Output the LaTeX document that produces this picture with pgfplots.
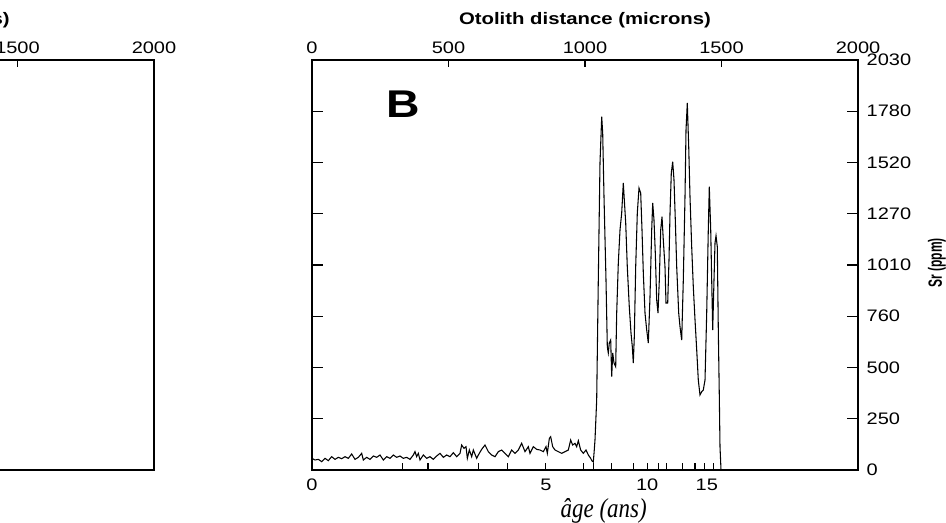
\documentclass[border=0pt]{standalone}
\usepackage{pgfplots}
\pgfplotsset{compat=1.18}
\usepackage{pgfplotstable}
\usepackage{fontspec}
\usepackage{graphicx}
\setmainfont{Liberation Sans}
\newfontfamily\serifit{Liberation Serif}
\newcommand{\tl}[1]{\scalebox{1.2}[1]{\fontsize{12.5}{14}\selectfont #1}}

\pgfplotstableread{
x y
0 57.8
11 49.5
23.2 52.8
35.4 41.3
47.6 57.8
59.8 46.2
72 66
84.2 52.8
96.5 62.7
108.7 56.1
120.9 66
133.1 57.8
145.3 79.2
157.5 52.8
169.7 62.7
181.9 82.5
188 49.5
200.2 62.7
212.5 52.8
224.7 69.3
236.9 62.7
249.1 74.3
261.3 49.5
273.5 66
285.7 57.8
297.9 74.3
310.1 62.7
322.3 69.3
334.5 57.8
346.8 62.7
359 52.8
371.2 74.3
377.3 90.8
383.4 66
389.5 82.5
395.6 49.5
407.8 74.3
420 57.8
432.2 66
444.4 52.8
456.7 69.3
468.9 82.5
481.1 62.7
493.3 74.3
505.5 66
517.7 85.8
529.9 66
542.1 82.5
548.2 123.8
556.8 107.3
564.1 115.5
569 57.8
576.3 99
584.9 66
591 99
603.2 57.8
609.3 74.3
621.5 102.3
633.7 123.8
645.9 90.8
658.1 74.3
670.4 66
682.6 90.8
694.8 99
707 82.5
719.2 66
731.4 99
743.6 82.5
755.8 99
768 132
780.2 90.8
792.4 115.5
798.5 82.5
810.7 115.5
822.9 102.3
835.2 99
847.4 90.8
857.1 115.5
862 82.5
869.4 156.8
874.3 165
881.6 115.5
890.1 99
902.3 90.8
914.5 82.5
926.7 90.8
938.9 99
947.5 148.5
954.8 123.8
963.4 132
969.5 115.5
975.6 145.2
984.1 99
993.9 82.5
1003.7 99
1012.2 74.3
1020.8 57.8
1025.7 44.6
1030.5 40
1034 100
1036.6 148.5
1042.8 346.6
1048.7 940.7
1054.9 1520
1061.2 1749
1064.8 1668
1069.6 1353
1076.9 940.7
1081.7 610.5
1085.3 579.3
1089 628.8
1094.1 643.6
1097.8 461.9
1101.5 579.3
1106.2 529.8
1112.4 511.4
1116.1 777.3
1122 1024.9
1128.2 1188.2
1134.4 1272.4
1140.3 1421
1144 1336.8
1149.1 1222.9
1154.9 1006.5
1162.2 808.5
1168.5 678.3
1173.3 610.5
1176.9 529.8
1180.6 660
1185.7 1006.5
1191.6 1272.4
1197.8 1396.2
1204 1371.4
1208.8 1188.2
1213.6 975.3
1219.8 777.3
1226 693.1
1231.9 628.8
1238.1 858
1244.3 1188.2
1248 1321.9
1252.7 1237.8
1257.5 1074.4
1262.6 841.7
1267.4 777.3
1272.2 940.7
1277.3 1188.2
1282.1 1254.1
1286.8 1138.7
1293 1006.5
1296.7 826.8
1302.9 826.8
1307.7 1039.7
1311.4 1272.4
1316.1 1470.4
1321.2 1526.4
1326 1435.8
1330.8 1237.8
1335.9 1006.5
1343.2 777.3
1348 709.5
1354.2 643.6
1360.1 940.7
1366.3 1353.1
1370 1683.3
1374.7 1817
1379.9 1600.7
1384.6 1353.1
1390.8 1105.6
1396.7 907.5
1403 742.7
1409.2 594.1
1415 445.6
1421.2 371.3
1427.5 387.7
1433.3 396.1
1439.6 445.6
1445.8 777.3
1451.6 1188.2
1455.3 1402.6
1460.5 1188.2
1464.1 940.7
1467.8 693.1
1472.5 940.7
1476.2 1123.9
1479.9 1160
1484.6 1105.6
1488.3 693.1
1492 362.9
1494.5 115.4
1498.2 0
}\srdata

\begin{document}
\begin{tikzpicture}
\pgfplotsset{
  panel/.style={scale only axis, width=409.5pt, height=307.5pt,
    xmin=0, xmax=2000, ymin=0, ymax=2030, anchor=south west, clip=false,
    tick style={black, line width=0.8pt}},
}
% ---------- Panel A (partly outside the picture) ----------
\begin{axis}[panel, at={(-294pt,39pt)},
  axis line style={black, line width=1.1pt},
  xtick=\empty, ytick=\empty,
  minor ytick={253.75,507.5,761.25,1015,1268.75,1522.5,1776.25},
  ytick pos=right, tick align=inside, minor tick length=8.25pt]
\end{axis}
\begin{axis}[panel, at={(-294pt,39pt)},
  axis x line*=top, axis y line=none,
  axis line style={black, line width=1.5pt},
  xtick={0,500,1000,1500,2000},
  xticklabels={\tl{0},\tl{500},\tl{1000},\tl{1500},\tl{2000}},
  tick align=inside, major tick length=5.25pt,
  xticklabel style={yshift=1pt}]
\node at (rel axis cs:0.5,1) [yshift=29.5pt, xshift=2pt]
  {\scalebox{1.22}[1]{\fontsize{12.5}{14}\selectfont\bfseries Otolith distance (microns)}};
\end{axis}

% ---------- Panel B ----------
\begin{axis}[panel, at={(234pt,39pt)},
  axis line style={black, line width=1.1pt},
  xtick=\empty,
  ytick={0,253.75,507.5,761.25,1015,1268.75,1522.5,1776.25,2030},
  yticklabels={\tl{0},\tl{250},\tl{500},\tl{760},\tl{1010},\tl{1270},\tl{1520},\tl{1780},\tl{2030}},
  ytick pos=both, yticklabel pos=right,
  tick align=inside, major tick length=8.25pt,
  yticklabel style={xshift=3pt}]
\addplot[black, line width=0.8pt] table[x=x,y=y]{\srdata};
\node at (rel axis cs:0.1667,0.8927)
  {\scalebox{1.2}[1]{\fontsize{29}{30}\selectfont\bfseries B}};
\node at (rel axis cs:1.1447,0.505)
  {\scalebox{1.6}[1]{\rotatebox{90}{\fontsize{9}{10}\selectfont\bfseries Sr (ppm)}}};
\end{axis}
\begin{axis}[panel, at={(234pt,39pt)},
  axis x line*=top, axis y line=none,
  axis line style={black, line width=1.5pt},
  xtick={0,500,1000,1500,2000},
  xticklabels={\tl{0},\tl{500},\tl{1000},\tl{1500},\tl{2000}},
  tick align=inside, major tick length=5.25pt,
  xticklabel style={yshift=1pt}]
\node at (rel axis cs:0.5,1) [yshift=29.5pt]
  {\scalebox{1.22}[1]{\fontsize{12.5}{14}\selectfont\bfseries Otolith distance (microns)}};
\end{axis}
\begin{axis}[panel, at={(234pt,39pt)},
  axis x line*=bottom, axis y line=none,
  axis line style={black, line width=1.1pt},
  xtick={0,857,1228,1446},
  xticklabels={\tl{0},\tl{5},\tl{10},\tl{15}},
  major tick length=0pt,
  minor xtick={332,425,609,717,857,994,1030,1098,1177,1230,1268,1300,1356,1403,1436,1469},
  minor tick length=5.25pt, tick align=inside,
  xticklabel style={yshift=-3pt}]
\node[anchor=base] at (rel axis cs:0.5343,-0.1154)
  {\scalebox{0.84}[1]{\fontsize{20.5}{22}\selectfont\serifit\itshape âge (ans)}};
\end{axis}

\pgfresetboundingbox
\useasboundingbox (0,0) rectangle (709.5pt,391.5pt);
\end{tikzpicture}
\end{document}
